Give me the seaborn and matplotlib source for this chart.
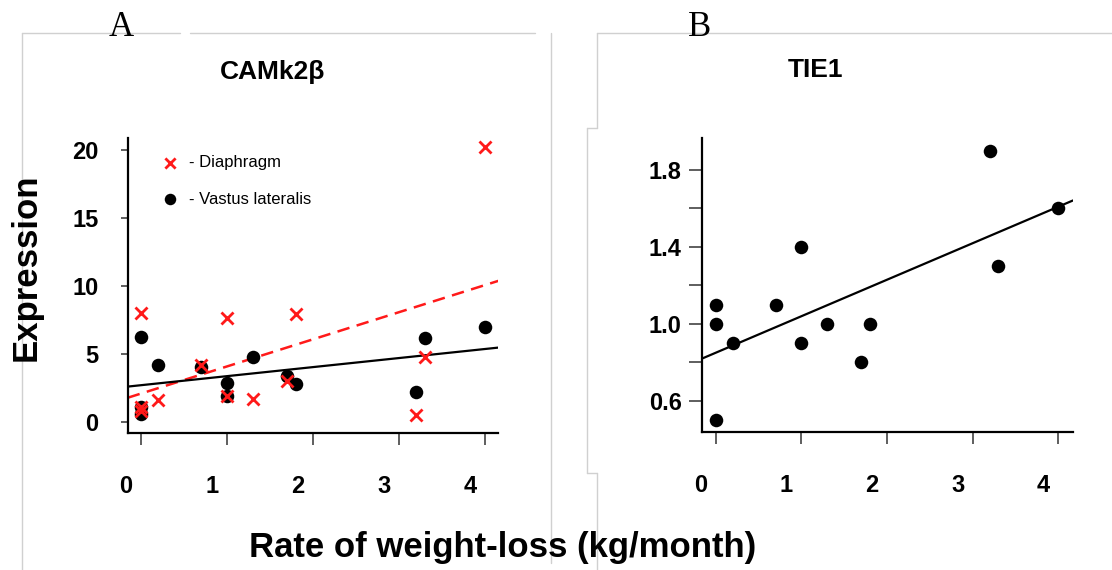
import numpy as np
import pandas as pd
import seaborn as sns
import matplotlib.pyplot as plt
from matplotlib.lines import Line2D
from matplotlib.transforms import ScaledTranslation

# rate of weight loss (kg/month) per patient
rate = [0, 0, 0, 0.2, 0.7, 1.0, 1.0, 1.3, 1.7, 1.8, 3.2, 3.3, 4.0]
# CAMk2b expression
camk_vastus = [6.25, 1.05, 0.6, 4.17, 4.0, 2.82, 1.89, 4.78, 3.36, 2.77, 2.16, 6.15, 6.99]
camk_diaphragm = [8.0, 1.1, 0.75, 1.6, 4.2, 7.6, 1.9, 1.7, 3.0, 7.9, 0.51, 4.73, 20.2]
# TIE1 expression
tie1_vastus = [1.1, 1.0, 0.5, 0.9, 1.1, 1.4, 0.9, 1.0, 0.8, 1.0, 1.9, 1.3, 1.6]

x_ticks = [0, 1, 2, 3, 4]
camk_yticks = [0, 5, 10, 15, 20]
tie1_yticks = [0.6, 1.0, 1.4, 1.8]
tie1_minor = [0.8, 1.2, 1.6]

df_camk = pd.DataFrame({"rate": rate, "vastus": camk_vastus, "diaphragm": camk_diaphragm})
df_tie = pd.DataFrame({"rate": rate, "tie1": tie1_vastus})

sns.set_style("ticks")
plt.rcParams["font.family"] = ["Liberation Sans", "DejaVu Sans"]
plt.rcParams["text.color"] = "black"
plt.rcParams["xtick.color"] = "black"
plt.rcParams["ytick.color"] = "black"
plt.rcParams["axes.edgecolor"] = "black"

fig = plt.figure(figsize=(11.12, 5.70), dpi=100)
W, H = 1112, 570
ax_a = fig.add_axes([127.7 / W, 1 - 432.7 / H, 370.6 / W, 294.7 / H])
ax_b = fig.add_axes([701.9 / W, 1 - 431.7 / H, 371.1 / W, 294.0 / H])


def style_axis(ax, ylen, ypad):
    for s in ["top", "right"]:
        ax.spines[s].set_visible(False)
    for s in ["left", "bottom"]:
        ax.spines[s].set_linewidth(1.6)
        ax.spines[s].set_color("black")
    ax.tick_params(axis="both", which="both", direction="out", width=1.1,
                   color="#333333", labelcolor="black", labelsize=17,
                   bottom=True, left=True)
    ax.tick_params(axis="x", length=8.5, pad=22)
    ax.tick_params(axis="y", which="both", length=ylen, pad=ypad)
    for lab in ax.get_xticklabels() + ax.get_yticklabels():
        lab.set_fontweight("bold")
    off = ScaledTranslation(-15 / 100, 0, fig.dpi_scale_trans)
    for lab in ax.get_xticklabels():
        lab.set_transform(lab.get_transform() + off)
    ax.set_xlabel("")
    ax.set_ylabel("")


# Panel A - CAMk2b
ax_a.set_xlim(-0.155, 4.155)
ax_a.set_ylim(-0.81, 20.86)
sns.regplot(data=df_camk, x="rate", y="diaphragm", ax=ax_a, scatter=False, ci=None,
            truncate=False, line_kws={"color": "#ff1a1a", "lw": 1.8, "ls": (0, (5, 3))})
sns.regplot(data=df_camk, x="rate", y="vastus", ax=ax_a, scatter=False, ci=None,
            truncate=False, line_kws={"color": "black", "lw": 1.6})
sns.scatterplot(data=df_camk, x="rate", y="vastus", ax=ax_a, color="black", s=95,
                edgecolor="black", linewidth=0, label="- Vastus lateralis", zorder=3)
sns.scatterplot(data=df_camk, x="rate", y="diaphragm", ax=ax_a, color="#ff1a1a", marker="x",
                s=75, linewidth=2, label="- Diaphragm", zorder=4)
handles, labels = ax_a.get_legend_handles_labels()
ax_a.legend(handles[::-1], labels[::-1], frameon=False, loc="upper left",
            bbox_to_anchor=(0.05, 0.965), fontsize=12, handletextpad=0.15,
            labelspacing=1.3, borderaxespad=0, markerscale=0.85)
ax_a.set_xticks(x_ticks)
ax_a.set_yticks(camk_yticks)
style_axis(ax_a, 5, 16)

# Panel B - TIE1
ax_b.set_xlim(-0.16, 4.17)
ax_b.set_ylim(0.439, 1.968)
sns.regplot(data=df_tie, x="rate", y="tie1", ax=ax_b, scatter=False, ci=None,
            truncate=False, line_kws={"color": "black", "lw": 1.6})
sns.scatterplot(data=df_tie, x="rate", y="tie1", ax=ax_b, color="black", s=95,
                linewidth=0, zorder=3)
ax_b.set_xticks(x_ticks)
ax_b.set_yticks(tie1_yticks)
ax_b.set_yticks(tie1_minor, minor=True)
ax_b.set_yticklabels([f"{v:.1f}" for v in tie1_yticks])
style_axis(ax_b, 9.5, 5)

# texts
fig.text(273 / W, 1 - 72 / H, "CAMk2β", ha="center", va="center", fontsize=19, fontweight="bold")
fig.text(815 / W, 1 - 70 / H, "TIE1", ha="center", va="center", fontsize=19, fontweight="bold")
fig.text(121 / W, 1 - 28 / H, "A", ha="center", va="center", fontsize=25,
         family=["Liberation Serif", "DejaVu Serif"])
fig.text(700 / W, 1 - 28 / H, "B", ha="center", va="center", fontsize=25,
         family=["Liberation Serif", "DejaVu Serif"])
fig.text(26 / W, 1 - 267 / H, "Expression", ha="center", va="center", rotation=90,
         fontsize=25, fontweight="bold")
fig.text(503 / W, 1 - 548 / H, "Rate of weight-loss (kg/month)", ha="center", va="center",
         fontsize=25, fontweight="bold")

# faint panel borders of the composite figure
grey = "#d0d0d0"
segments = [
    [(22, 33), (22, 570)], [(22, 33), (180, 33)], [(190, 33), (535, 33)],
    [(551, 33), (551, 563)], [(597, 33), (597, 128)], [(587, 128), (597, 128)],
    [(587, 128), (587, 473)], [(587, 473), (597, 473)], [(597, 473), (597, 570)],
    [(597, 33), (1112, 33)],
]
for (x0, y0), (x1, y1) in segments:
    fig.add_artist(Line2D([x0 / W, x1 / W], [1 - y0 / H, 1 - y1 / H], color=grey, lw=1))

fig.savefig("out.png", dpi=100)
